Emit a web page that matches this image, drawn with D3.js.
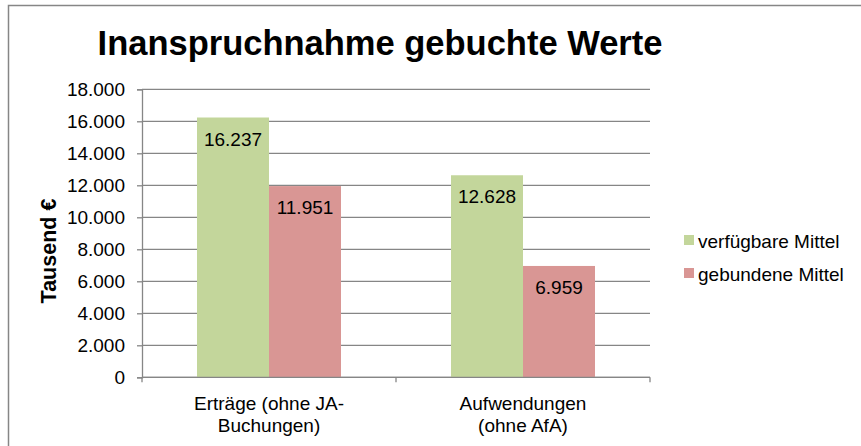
<!DOCTYPE html>
<html>
<head>
<meta charset="utf-8">
<script src="https://cdn.jsdelivr.net/npm/d3@7"></script>
<style>
  body { margin: 0; background: #fff; }
  svg { font-family: "Liberation Sans", Arial, sans-serif; }
</style>
</head>
<body>
<svg id="chart" width="861" height="446"></svg>
<script>
// data
const categories = [["Erträge (ohne JA-", "Buchungen)"], ["Aufwendungen", "(ohne AfA)"]];
const series = ["verfügbare Mittel", "gebundene Mittel"];
const verfuegbar = [16237, 12628];
const gebunden = [11951, 6959];
const yTicks = [0, 2000, 4000, 6000, 8000, 10000, 12000, 14000, 16000, 18000];

const colors = ["#C3D69B", "#D99694"];
const svg = d3.select("#chart");
const width = 861, height = 446;
const margin = { top: 89.3, right: 211, bottom: 68.7, left: 142 };

// chart border (cropped on the right and bottom)
svg.append("rect")
  .attr("x", 8.5).attr("y", 5.5)
  .attr("width", 900).attr("height", 500)
  .attr("fill", "#fff").attr("stroke", "#868686").attr("stroke-width", 1.5);

svg.append("text")
  .attr("x", 380).attr("y", 55)
  .attr("text-anchor", "middle")
  .style("font-size", "34.5px").style("font-weight", "bold")
  .text("Inanspruchnahme gebuchte Werte");

const x0 = d3.scaleBand()
  .domain(categories.map((d, i) => i))
  .range([margin.left, width - margin.right]);
const x1 = d3.scaleBand()
  .domain(series)
  .range([0, x0.bandwidth()])
  .paddingOuter(0.764);
const y = d3.scaleLinear()
  .domain([0, 18000])
  .range([height - margin.bottom, margin.top]);

const fmt = d3.formatLocale({ decimal: ",", thousands: ".", grouping: [3], currency: ["", "€"] }).format(",.0f");

// gridlines
svg.append("g")
  .selectAll("line")
  .data(yTicks)
  .enter()
  .append("line")
  .attr("x1", margin.left).attr("x2", width - margin.right)
  .attr("y1", (d) => y(d)).attr("y2", (d) => y(d))
  .attr("stroke", "#868686").attr("stroke-width", 1.3);

// y axis
const yAxis = svg.append("g")
  .attr("transform", "translate(" + margin.left + ",0)")
  .call(d3.axisLeft(y).tickValues(yTicks).tickFormat(fmt).tickSize(5).tickPadding(12));
yAxis.select(".domain").attr("stroke", "#868686").attr("stroke-width", 1.3);
yAxis.selectAll(".tick line").attr("stroke", "#868686").attr("stroke-width", 1.3);
yAxis.selectAll(".tick text").style("font-size", "19px").attr("fill", "#000")
  .attr("font-family", null);

svg.append("text")
  .attr("transform", "translate(56,251) rotate(-90)")
  .attr("text-anchor", "middle")
  .style("font-size", "21.5px").style("font-weight", "bold")
  .text("Tausend €");

// bars
const rows = categories.map((c, i) => ({ i: i, values: [verfuegbar[i], gebunden[i]] }));
const groups = svg.append("g")
  .selectAll("g")
  .data(rows)
  .enter()
  .append("g")
  .attr("transform", (d) => "translate(" + x0(d.i) + ",0)");
groups.selectAll("rect")
  .data((d) => d.values.map((v, k) => ({ s: series[k], v: v, k: k })))
  .enter()
  .append("rect")
  .attr("x", (d) => x1(d.s))
  .attr("width", x1.bandwidth())
  .attr("y", (d) => y(d.v))
  .attr("height", (d) => y(0) - y(d.v))
  .attr("fill", (d) => colors[d.k]);
groups.selectAll("text")
  .data((d) => d.values.map((v, k) => ({ s: series[k], v: v, k: k })))
  .enter()
  .append("text")
  .attr("x", (d) => x1(d.s) + x1.bandwidth() / 2)
  .attr("y", (d) => y(d.v) + 28)
  .attr("text-anchor", "middle")
  .style("font-size", "19px")
  .text((d) => fmt(d.v));

// x axis
const xAxisY = y(0);
svg.append("line")
  .attr("x1", margin.left).attr("x2", width - margin.right)
  .attr("y1", xAxisY).attr("y2", xAxisY)
  .attr("stroke", "#868686").attr("stroke-width", 1.3);
const bounds = [margin.left].concat(categories.map((c, i) => x0(i) + x0.bandwidth()));
svg.append("g")
  .selectAll("line")
  .data(bounds)
  .enter()
  .append("line")
  .attr("x1", (d) => d).attr("x2", (d) => d)
  .attr("y1", xAxisY).attr("y2", xAxisY + 5)
  .attr("stroke", "#868686").attr("stroke-width", 1.3);
const catLabels = svg.append("g")
  .selectAll("text")
  .data(categories)
  .enter()
  .append("text")
  .attr("text-anchor", "middle")
  .style("font-size", "19px");
catLabels.each(function (d, i) {
  d3.select(this).selectAll("tspan")
    .data(d)
    .enter()
    .append("tspan")
    .attr("x", x0(i) + x0.bandwidth() / 2)
    .attr("y", (t, j) => 410 + j * 22)
    .text((t) => t);
});

// legend
const legend = svg.append("g").attr("transform", "translate(684,235)");
legend.selectAll("rect")
  .data(series)
  .enter()
  .append("rect")
  .attr("x", 0)
  .attr("y", (d, i) => i * 33)
  .attr("width", 10).attr("height", 10)
  .attr("fill", (d, i) => colors[i]);
legend.selectAll("text")
  .data(series)
  .enter()
  .append("text")
  .attr("x", 14)
  .attr("y", (d, i) => 12.5 + i * 33)
  .style("font-size", "19px")
  .text((d) => d);
</script>
</body>
</html>
